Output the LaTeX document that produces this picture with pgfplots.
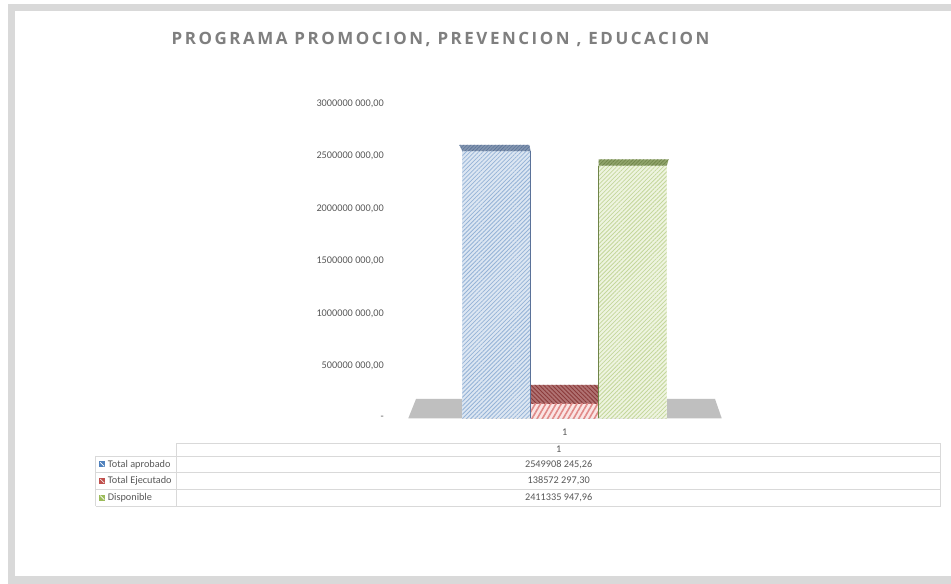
\documentclass[border=0pt]{standalone}
\usepackage{fontspec}
\setmainfont{Carlito}
\newfontfamily\titlefont[LetterSpace=15]{Open Sans}
\usepackage{pgfplots}
\pgfplotsset{compat=1.18}
\usetikzlibrary{patterns.meta}
\definecolor{framegray}{HTML}{D9D9D9}
\definecolor{titlegray}{HTML}{7F7F7F}
\definecolor{txt}{HTML}{595959}
\definecolor{tablegray}{HTML}{D9D9D9}
\definecolor{bluefill}{HTML}{DCE6F2}
\definecolor{bluestripe}{HTML}{95B3D7}
\definecolor{bluetop}{HTML}{8497B0}
\definecolor{bluetopstripe}{HTML}{5A7299}
\definecolor{redfill}{HTML}{FBE5E4}
\definecolor{redstripe}{HTML}{E08A88}
\definecolor{redtop}{HTML}{B07272}
\definecolor{redtopstripe}{HTML}{8B3A3A}
\definecolor{greenfill}{HTML}{EEF4E0}
\definecolor{greenstripe}{HTML}{C4D79B}
\definecolor{greentop}{HTML}{8FA36A}
\definecolor{greentopstripe}{HTML}{6F8448}
\definecolor{floorgray}{HTML}{BFBFBF}
\definecolor{keyblue}{HTML}{4F81BD}
\definecolor{keyred}{HTML}{C0504D}
\definecolor{keygreen}{HTML}{9BBB59}
\newcommand{\sm}{\fontsize{10.3}{12}\selectfont}
\begin{document}
\begin{tikzpicture}[x=1bp,y=1bp]
\useasboundingbox (0,0) rectangle (951,584);
\fill[white] (0,0) rectangle (960,590);
\fill[framegray] (8,-5) rectangle (960,580);
\fill[white] (15,8) rectangle (960,573);
\node[anchor=base, inner sep=0pt, font=\titlefont\bfseries\fontsize{17}{20}\selectfont, text=titlegray] at (440.5,539) {PROGRAMA PROMOCION, PREVENCION , EDUCACION};
\begin{axis}[
  at={(416bp,165.7bp)}, anchor=south west,
  scale only axis, width=314bp, height=314.4bp,
  xmin=416, xmax=730, ymin=0, ymax=3000000000,
  enlargelimits=false, clip=false,
  axis line style={draw=none}, major tick length=0pt, tick style={draw=none},
  scaled y ticks=false, scaled x ticks=false,
  ytick={0,500000000,1000000000,1500000000,2000000000,2500000000,3000000000},
  yticklabels={{-\hspace{3bp}},{500000 000,00},{1000000 000,00},{1500000 000,00},{2000000 000,00},{2500000 000,00},{3000000 000,00}},
  yticklabel style={anchor=east, inner sep=0pt, xshift=-32bp, font=\sm, text=txt},
  xtick={564.7}, xticklabels={1},
  xticklabel style={anchor=north, inner sep=0pt, yshift=-10bp, font=\sm, text=txt},
]
% floor
\addplot[fill=floorgray, draw=none, mark=none] coordinates {(408.3,0) (416,184200000) (715,184200000) (721.7,0)} -- cycle;
% red top face
\addplot[fill=redtop, draw=none, mark=none, postaction={pattern={Lines[angle=135,distance=3bp,line width=0.9bp]}, pattern color=redtopstripe}] coordinates {(530.7,138572297.30) (531,317800000) (598,317800000) (598.7,138572297.30)} -- cycle;
% bars
\addplot[ybar, bar shift=0pt, bar width=68.4, draw=none, fill=bluefill, postaction={pattern={Lines[angle=45,distance=3bp,line width=0.8bp]}, pattern color=bluestripe}] coordinates {(496.5,2549908245.26)};
\addplot[ybar, bar shift=0pt, bar width=68, draw=none, fill=redfill, postaction={pattern={Lines[angle=60,distance=4.5bp,line width=1.6bp]}, pattern color=redstripe}] coordinates {(564.7,138572297.30)};
\addplot[ybar, bar shift=0pt, bar width=68, draw=none, fill=greenfill, postaction={pattern={Lines[angle=45,distance=3bp,line width=0.8bp]}, pattern color=greenstripe}] coordinates {(632.7,2411335947.96)};
% top faces
\addplot[fill=bluetop, draw=none, mark=none, postaction={pattern={Lines[angle=45,distance=2.5bp,line width=0.6bp]}, pattern color=bluetopstripe}] coordinates {(462.3,2549908245.26) (459.3,2607800000) (529.3,2607800000) (530.7,2549908245.26)} -- cycle;
\addplot[fill=greentop, draw=none, mark=none, postaction={pattern={Lines[angle=45,distance=2.5bp,line width=0.6bp]}, pattern color=greentopstripe}] coordinates {(598.7,2411335947.96) (598.7,2471400000) (668.7,2471400000) (666.7,2411335947.96)} -- cycle;
% edges
\addplot[draw=bluetopstripe, line width=0.6bp, mark=none] coordinates {(530.7,0) (530.7,2549908245.26)};
\addplot[draw=greentopstripe, line width=0.6bp, mark=none] coordinates {(598.7,0) (598.7,2411335947.96)};
\end{axis}
% data table
\begin{scope}[draw=tablegray, line width=0.8bp]
\draw (176.7,140.7) -- (940.7,140.7);
\draw (95.7,128) -- (940.7,128);
\draw (95.7,111.3) -- (940.7,111.3);
\draw (95.7,94.7) -- (940.7,94.7);
\draw (95.7,78) -- (940.7,78);
\draw (95.7,128) -- (95.7,78);
\draw (176.7,140.7) -- (176.7,78);
\draw (940.7,140.7) -- (940.7,78);
\end{scope}
\begin{scope}[every node/.style={font=\sm, text=txt, inner sep=0pt}]
\node at (558.7,134.3) {1};
\node at (558.7,119.6) {2549908 245,26};
\node at (558.7,103) {138572 297,30};
\node at (558.7,86.3) {2411335 947,96};
\node[anchor=west] at (107.7,119.6) {Total aprobado};
\node[anchor=west] at (107.7,103) {Total Ejecutado};
\node[anchor=west] at (107.7,86.3) {Disponible};
\end{scope}
\foreach \yc/\col in {119.6/keyblue,103/keyred,86.3/keygreen}{
  \fill[\col] (99.3,\yc-3) rectangle (105.3,\yc+3);
  \draw[white, line width=0.6bp] (100.3,\yc+2) -- (104.3,\yc-2);
}
\end{tikzpicture}
\end{document}
